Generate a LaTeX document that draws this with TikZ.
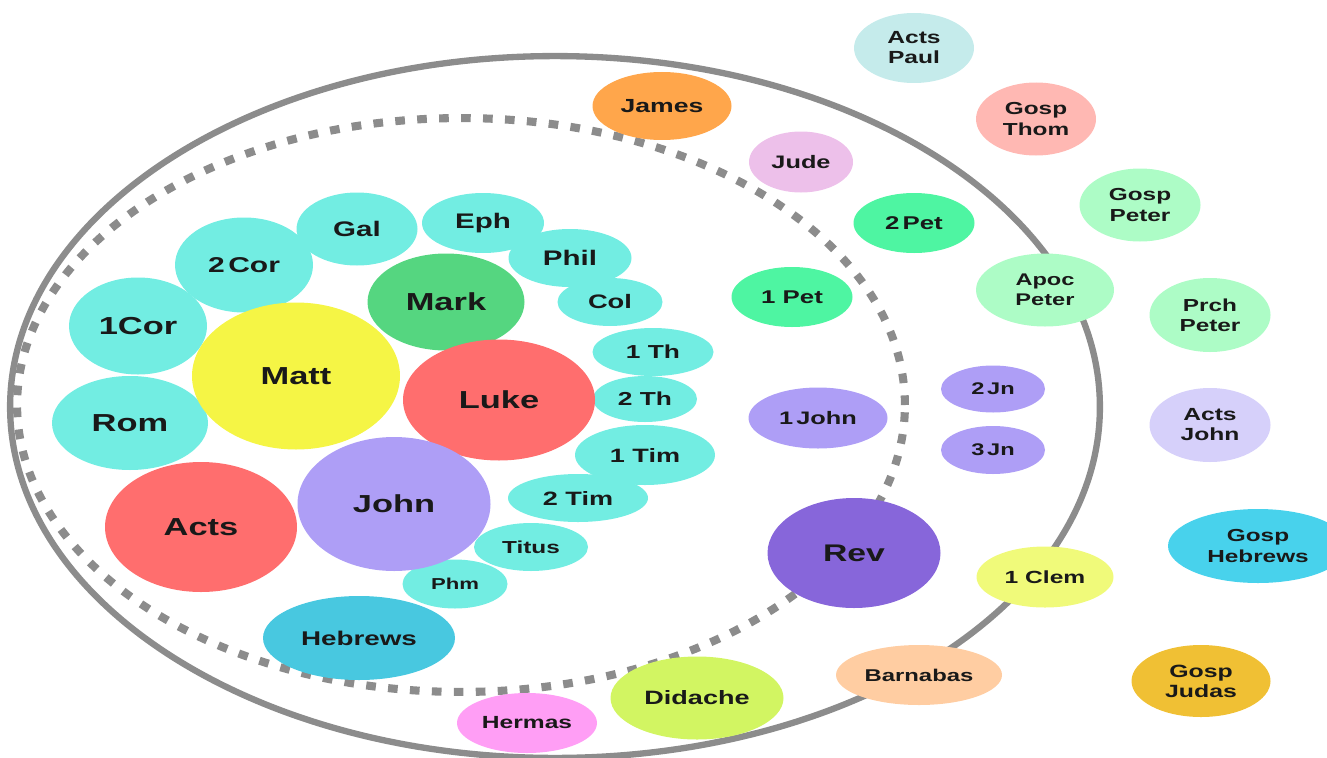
\documentclass[tikz,border=0pt]{standalone}
\usepackage{fontspec}
\usepackage{tikz}
\usetikzlibrary{shapes.geometric}
\newfontfamily\bubfont{Liberation Sans}[FakeStretch=1.4]
\definecolor{ringgray}{HTML}{8C8C8C}
\definecolor{epistle}{HTML}{72EDE2}
\definecolor{mattc}{HTML}{F5F545}
\definecolor{markc}{HTML}{55D680}
\definecolor{lukec}{HTML}{FF6E6E}
\definecolor{johnc}{HTML}{AE9EF6}
\definecolor{hebc}{HTML}{48C8E0}
\definecolor{jamesc}{HTML}{FFA64B}
\definecolor{judec}{HTML}{EDC0EA}
\definecolor{peterc}{HTML}{4EF5A2}
\definecolor{revc}{HTML}{8766DA}
\definecolor{hermasc}{HTML}{FF9EF5}
\definecolor{didachec}{HTML}{D2F562}
\definecolor{barnabasc}{HTML}{FFCDA2}
\definecolor{clemc}{HTML}{F0FA7A}
\definecolor{actspaulc}{HTML}{C5EBEB}
\definecolor{thomc}{HTML}{FFB8B3}
\definecolor{petrinec}{HTML}{ADFCC6}
\definecolor{actsjohnc}{HTML}{D6D0FA}
\definecolor{goshebc}{HTML}{48D2EC}
\definecolor{judasc}{HTML}{F0C034}
\tikzstyle{band} = [ellipse, draw=ringgray, line width=3.6pt]
\tikzstyle{bub}  = [ellipse, inner sep=0pt, align=center, text=black!90]

\begin{document}
\begin{tikzpicture}[x=0.02cm, y=-0.02cm]
  \useasboundingbox (0,0) rectangle (1327,757);
  \clip (0,0) rectangle (1327,757);

  %the two rings
  \node[band, minimum width=21.8cm, minimum height=14.04cm] (outer) at (555,407) {};
  \node[band, line width=4.6pt, dash pattern=on 5.5pt off 7pt, minimum width=17.76cm, minimum height=11.48cm] (inner) at (461,405) {};

  %letters of paul
  \foreach \n/\x/\y/\w/\h/\col/\fs/\txt in {
      c1/138/326/138/97/epistle/14/1Cor, c2/244/265/138/95/epistle/12.2/2\,Cor,
      gal/357/229/121/73/epistle/12/Gal, eph/483/223/122/60/epistle/12/Eph,
      phil/570/258/123/58/epistle/12/Phil, col/610/302/105/48/epistle/11.1/Col,
      th1/653/352/121/48/epistle/10.7/1 Th, th2/645/399/104/46/epistle/10.7/2 Th,
      tim1/645/455/140/60/epistle/11/1 Tim, tim2/578/498/140/48/epistle/11/2 Tim,
      titus/531/547/114/48/epistle/9.9/Titus, phm/455/584/105/49/epistle/9/Phm,
      rom/130/423/156/94/epistle/14/Rom, heb/359/638/192/84/hebc/11.3/Hebrews}{
    \node[bub, fill=\col, minimum width=\w*0.02cm, minimum height=\h*0.02cm,
          font=\bubfont\bfseries\fontsize{\fs}{11.4}\selectfont] (\n) at (\x,\y) {\txt};
  }

  %gospels and acts
  \foreach \n/\x/\y/\w/\h/\col/\fs/\txt in {
      matt/296/376/208/147/mattc/14/Matt, mark/446/302/157/97/markc/14/Mark,
      luke/499/400/192/121/lukec/14/Luke, john/394/504/193/134/johnc/14/John,
      acts/201/527/192/130/lukec/14/Acts}{
    \node[bub, fill=\col, minimum width=\w*0.02cm, minimum height=\h*0.02cm,
          font=\bubfont\bfseries\fontsize{\fs}{11.4}\selectfont] (\n) at (\x,\y) {\txt};
  }

  %the other letters and rev
  \foreach \n/\x/\y/\w/\h/\col/\fs/\txt in {
      james/662/106/139/68/jamesc/10.8/James, jude/801/162/104/61/judec/10.3/Jude,
      pet2/914/223/121/60/peterc/10.5/2\,Pet, pet1/792/297/121/60/peterc/10.5/1 Pet,
      jn1/818/418/139/61/johnc/10.3/1\,John, jn2/993/389/104/47/johnc/9.6/2\,Jn,
      jn3/993/450/104/48/johnc/9.6/3\,Jn, rev/854/553/173/110/revc/13.7/Rev}{
    \node[bub, fill=\col, minimum width=\w*0.02cm, minimum height=\h*0.02cm,
          font=\bubfont\bfseries\fontsize{\fs}{11.4}\selectfont] (\n) at (\x,\y) {\txt};
  }

  %outside the canon
  \foreach \n/\x/\y/\w/\h/\col/\fs/\txt in {
      hermas/527/723/140/60/hermasc/10/Hermas, didache/697/698/173/83/didachec/11/Didache,
      barnabas/919/675/166/60/barnabasc/9.7/Barnabas, clem/1045/577/137/61/clemc/10/1 Clem,
      actspaul/914/48/120/70/actspaulc/10/Acts\\Paul, thom/1036/119/120/73/thomc/9.9/Gosp\\Thom,
      gpeter/1140/205/121/73/petrinec/9.9/Gosp\\Peter, apoc/1045/290/138/73/petrinec/9.6/Apoc\\Peter,
      prch/1210/315/121/74/petrinec/9.9/Prch\\Peter, actsjohn/1210/425/121/74/actsjohnc/10/Acts\\John,
      goheb/1258/546/180/74/goshebc/9.9/Gosp\\Hebrews, judas/1201/681/139/72/judasc/10.1/Gosp\\Judas}{
    \node[bub, fill=\col, minimum width=\w*0.02cm, minimum height=\h*0.02cm,
          font=\bubfont\bfseries\fontsize{\fs}{11.4}\selectfont] (\n) at (\x,\y) {\txt};
  }
\end{tikzpicture}
\end{document}
